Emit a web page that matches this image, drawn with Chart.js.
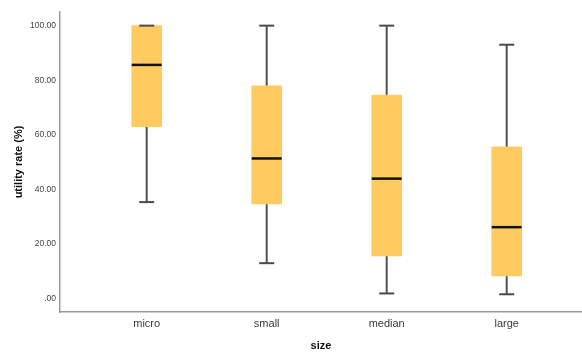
<!DOCTYPE html>
<html>
<head>
<meta charset="utf-8">
<script src="https://cdn.jsdelivr.net/npm/chart.js@4/dist/chart.umd.min.js"></script>
<style>
  html, body { margin: 0; padding: 0; background: #fff; }
  #wrap { width: 582px; height: 353px; }
</style>
</head>
<body>
<div id="wrap"><canvas id="chartCanvas"></canvas></div>
<script>
const categories = ['micro', 'small', 'median', 'large']
const whiskerLow = [35.3, 12.9, 1.8, 1.5]
const q1 = [63.0, 34.6, 15.6, 8.2]
const medians = [85.6, 51.3, 43.9, 26.1]
const q3 = [100, 77.9, 74.5, 55.6]
const whiskerHigh = [100, 100, 100, 93.0]
const yTicks = [0, 20, 40, 60, 80, 100]

const pos = categories.map((c, i) => i + 1)

const whiskers = pos.map((x, i) => ({ x: x, y: [whiskerLow[i], whiskerHigh[i]] }))
const boxes = pos.map((x, i) => ({ x: x, y: [q1[i], q3[i]] }))
const medianPts = pos.map((x, i) => ({ x: x, y: medians[i] }))
const caps = pos.flatMap((x, i) => [{ x: x, y: whiskerLow[i] }, { x: x, y: whiskerHigh[i] }])

const axisColor = '#9a9a9a'

new Chart(document.getElementById('chartCanvas'), {
    type: 'bar',
    data: {
        datasets: [
            {
                type: 'scatter', data: medianPts, order: 0,
                pointStyle: 'line', radius: 15, borderWidth: 2.5,
                borderColor: '#111111', backgroundColor: '#111111'
            },
            {
                type: 'scatter', data: caps, order: 1,
                pointStyle: 'line', radius: 7.5, borderWidth: 2,
                borderColor: '#4a4a4a', backgroundColor: '#4a4a4a'
            },
            {
                data: boxes, order: 2, grouped: false,
                barThickness: 30, backgroundColor: '#ffcb60', borderWidth: 0
            },
            {
                data: whiskers, order: 3, grouped: false,
                barThickness: 1.4, backgroundColor: '#555555', borderWidth: 0
            }
        ]
    },
    options: {
        responsive: true,
        maintainAspectRatio: false,
        animation: false,
        layout: { autoPadding: false, padding: { left: 6, top: 12, right: 0, bottom: 0 } },
        plugins: { legend: { display: false }, tooltip: { enabled: false } },
        scales: {
            x: {
                type: 'linear',
                offset: false,
                min: 0.2775,
                max: 4.6275,
                grid: { display: false, drawTicks: false },
                border: { display: true, color: axisColor, width: 1.5 },
                afterBuildTicks: scale => { scale.ticks = pos.map(v => ({ value: v })) },
                afterFit: scale => { scale.height = 41 },
                ticks: {
                    padding: 5,
                    color: '#3a3a3a',
                    font: { family: 'Liberation Sans', size: 11 },
                    callback: v => categories[v - 1]
                },
                title: {
                    display: true, text: 'size', color: '#111',
                    font: { family: 'Liberation Sans', size: 11, weight: 'bold' },
                    padding: { top: 0, bottom: 0 }
                }
            },
            y: {
                min: -5,
                max: 105,
                grid: { display: false, drawTicks: false },
                border: { display: true, color: axisColor, width: 1.5 },
                afterBuildTicks: scale => { scale.ticks = yTicks.map(v => ({ value: v })) },
                afterFit: scale => { scale.width = 54 },
                ticks: {
                    padding: 4,
                    color: '#444',
                    font: { family: 'Liberation Sans', size: 8.5 },
                    callback: v => v === 0 ? '.00' : v.toFixed(2)
                },
                title: {
                    display: true, text: 'utility rate (%)', color: '#111',
                    font: { family: 'Liberation Sans', size: 11, weight: 'bold' },
                    padding: { top: 6, bottom: 4 }
                }
            }
        }
    }
})
</script>
</body>
</html>
